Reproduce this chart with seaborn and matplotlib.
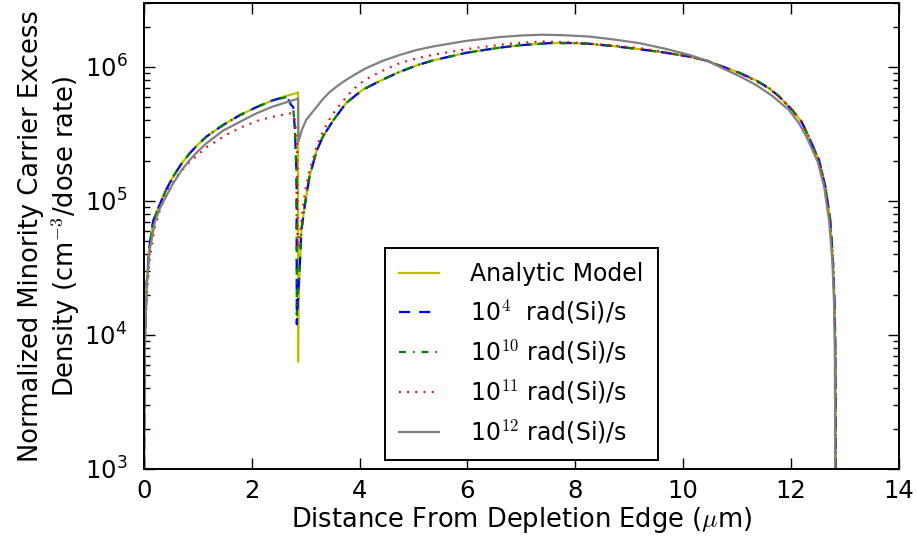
import numpy as np
import matplotlib
matplotlib.use("Agg")
import matplotlib.pyplot as plt
import seaborn as sns
from matplotlib.ticker import LogLocator, FixedLocator

# ---------------- data (y as log10 values) ----------------
analytic_x = [0.001, 0.003, 0.01, 0.02, 0.05, 0.1, 0.17, 0.3, 0.42, 0.54, 0.7, 0.85, 1.0, 1.16, 1.47,
              1.78, 2.09, 2.39, 2.65, 2.83, 2.858, 2.859, 2.865, 2.89, 2.92, 2.98, 3.07, 3.2, 3.32,
              3.51, 3.75, 4.06, 4.43, 4.74, 5.05, 5.36, 5.98, 6.59, 7.0, 7.52, 7.9, 8.26, 8.7, 9.19,
              9.65, 10.11, 10.45, 10.73, 11.05, 11.35, 11.6, 11.78, 12.02, 12.2, 12.33, 12.52, 12.64,
              12.73, 12.78, 12.81, 12.825, 12.83, 12.835]
analytic_log10 = [2.7, 3.2, 3.7, 4.0, 4.38, 4.65, 4.85, 4.98, 5.09, 5.18, 5.28, 5.356, 5.42, 5.48, 5.567,
                  5.64, 5.70, 5.75, 5.785, 5.804, 5.81, 3.80, 4.2, 4.51, 4.78, 4.957, 5.18, 5.37, 5.48,
                  5.60, 5.73, 5.83, 5.905, 5.962, 6.01, 6.048, 6.105, 6.143, 6.162, 6.177, 6.178, 6.172,
                  6.155, 6.132, 6.107, 6.077, 6.045, 6.002, 5.955, 5.90, 5.84, 5.78, 5.68, 5.59, 5.48,
                  5.306, 5.107, 4.858, 4.56, 4.26, 3.9, 3.5, 2.5]

d4_x = [0.001, 0.003, 0.01, 0.02, 0.05, 0.1, 0.17, 0.3, 0.42, 0.54, 0.7, 0.85, 1.0, 1.16, 1.47,
        1.78, 2.09, 2.39, 2.65, 2.73, 2.77, 2.80, 2.83, 2.835, 2.86, 2.89, 2.92, 2.98, 3.07, 3.2, 3.32,
        3.51, 3.75, 4.06, 4.43, 4.74, 5.05, 5.36, 5.98, 6.59, 7.0, 7.52, 7.9, 8.26, 8.7, 9.19,
        9.65, 10.11, 10.45, 10.73, 11.05, 11.35, 11.6, 11.78, 12.02, 12.2, 12.33, 12.52, 12.64,
        12.73, 12.78, 12.81, 12.825, 12.83, 12.835]
d4_log10 = [2.7, 3.2, 3.7, 4.0, 4.38, 4.65, 4.85, 4.98, 5.09, 5.18, 5.28, 5.356, 5.42, 5.48, 5.567,
            5.64, 5.70, 5.75, 5.78, 5.716, 5.70, 5.53, 5.2, 4.08, 4.3, 4.51, 4.78, 4.957, 5.18, 5.37, 5.48,
            5.60, 5.73, 5.83, 5.905, 5.962, 6.01, 6.048, 6.105, 6.143, 6.162, 6.177, 6.178, 6.172,
            6.155, 6.132, 6.107, 6.077, 6.045, 6.002, 5.955, 5.90, 5.84, 5.78, 5.68, 5.59, 5.48,
            5.306, 5.107, 4.858, 4.56, 4.26, 3.9, 3.5, 2.5]

d10_x = [0.001, 0.003, 0.01, 0.02, 0.05, 0.1, 0.17, 0.3, 0.42, 0.54, 0.7, 0.85, 1.0, 1.16, 1.47,
         1.78, 2.09, 2.39, 2.65, 2.73, 2.77, 2.80, 2.83, 2.835, 2.86, 2.89, 2.92, 2.98, 3.07, 3.2, 3.32,
         3.51, 3.75, 4.06, 4.43, 4.74, 5.05, 5.36, 5.98, 6.59, 7.0, 7.52, 7.9, 8.26, 8.7, 9.19,
         9.65, 10.11, 10.45, 10.73, 11.05, 11.35, 11.6, 11.78, 12.02, 12.2, 12.33, 12.52, 12.64,
         12.73, 12.78, 12.81, 12.825, 12.83, 12.835]
d10_log10 = [2.7, 3.2, 3.7, 4.0, 4.38, 4.65, 4.85, 4.98, 5.09, 5.18, 5.28, 5.356, 5.42, 5.48, 5.567,
             5.64, 5.70, 5.75, 5.775, 5.71, 5.69, 5.52, 5.2, 4.15, 4.32, 4.51, 4.78, 4.957, 5.18, 5.37, 5.48,
             5.60, 5.73, 5.83, 5.905, 5.962, 6.01, 6.048, 6.105, 6.143, 6.162, 6.177, 6.178, 6.172,
             6.155, 6.132, 6.107, 6.077, 6.045, 6.002, 5.955, 5.90, 5.84, 5.78, 5.68, 5.59, 5.48,
             5.306, 5.107, 4.858, 4.56, 4.26, 3.9, 3.5, 2.5]

d11_x = [0.001, 0.003, 0.01, 0.02, 0.05, 0.1, 0.2, 0.3, 0.42, 0.60, 0.82, 1.16, 1.56, 1.84, 2.15,
         2.46, 2.73, 2.80, 2.84, 2.85, 2.89, 2.92, 2.95, 3.0, 3.07, 3.2, 3.32, 3.47, 3.66, 3.81, 3.96,
         4.12, 4.43, 4.74, 5.05, 5.36, 5.98, 6.59, 7.0, 7.4, 7.95, 8.57, 9.19, 9.65, 10.11, 10.45,
         10.73, 11.05, 11.35, 11.6, 11.78, 12.02, 12.2, 12.33, 12.52, 12.64, 12.73, 12.78, 12.81,
         12.825, 12.83, 12.835]
d11_log10 = [2.6, 3.1, 3.6, 3.9, 4.28, 4.55, 4.8, 4.94, 5.057, 5.18, 5.28, 5.40, 5.50, 5.555, 5.604,
             5.634, 5.654, 5.6, 5.45, 4.65, 4.74, 4.84, 4.957, 5.095, 5.22, 5.405, 5.517, 5.63, 5.73, 5.80,
             5.86, 5.908, 5.972, 6.027, 6.062, 6.09, 6.132, 6.164, 6.180, 6.189, 6.182, 6.164, 6.14,
             6.11, 6.077, 6.042, 6.0, 5.952, 5.895, 5.835, 5.78, 5.68, 5.59, 5.48, 5.306, 5.107, 4.858,
             4.56, 4.26, 3.9, 3.5, 2.5]

d12_x = [0.001, 0.003, 0.01, 0.02, 0.05, 0.1, 0.2, 0.3, 0.42, 0.54, 0.7, 0.85, 1.0, 1.16, 1.47,
         1.78, 2.09, 2.39, 2.83, 2.86, 2.865, 2.93, 3.01, 3.1, 3.2, 3.32, 3.44, 3.58, 3.72, 3.9, 4.12,
         4.43, 4.74, 5.05, 5.36, 5.98, 6.59, 7.0, 7.4, 7.8, 8.26, 8.7, 9.19, 9.65, 10.11, 10.45, 10.73,
         11.05, 11.35, 11.65, 11.96, 12.15, 12.3, 12.5, 12.62, 12.71, 12.77, 12.80, 12.815, 12.82, 12.825]
d12_log10 = [2.7, 3.2, 3.7, 4.0, 4.36, 4.62, 4.84, 4.95, 5.04, 5.13, 5.23, 5.306, 5.37, 5.43, 5.525,
             5.59, 5.654, 5.704, 5.759, 5.765, 5.443, 5.53, 5.605, 5.65, 5.70, 5.76, 5.81, 5.855, 5.895,
             5.94, 5.99, 6.045, 6.088, 6.125, 6.152, 6.194, 6.222, 6.234, 6.24, 6.236, 6.226, 6.205,
             6.177, 6.137, 6.09, 6.045, 5.99, 5.93, 5.866, 5.785, 5.68, 5.58, 5.47, 5.29, 5.1, 4.85,
             4.55, 4.25, 3.9, 3.5, 2.5]

series_labels = ["Analytic Model", r"10$^{4}$  rad(Si)/s", r"10$^{10}$ rad(Si)/s",
                 r"10$^{11}$ rad(Si)/s", r"10$^{12}$ rad(Si)/s"]
x_ticks = [0, 2, 4, 6, 8, 10, 12, 14]

# ---------------- style ----------------
plt.rcParams.update({
    "font.family": ["DejaVu Sans"],
    "mathtext.fontset": "cm",
    "axes.linewidth": 1.4,
    "lines.scale_dashes": False,
    "lines.dashed_pattern": [8.0, 6.5],
    "lines.dashdot_pattern": [5.0, 5.0, 1.2, 5.0],
    "lines.dotted_pattern": [1.3, 4.6],
    "xtick.direction": "in",
    "ytick.direction": "in",
})

fig = plt.figure(figsize=(9.17, 5.38), dpi=100)
ax = fig.add_axes([0.157, 0.1283, 0.823, 0.8663])

styles = [("#bfbf00", "-"), ("#0000ff", "--"), ("#008000", "-."), ("#ff0000", ":"), ("#808080", "-")]
all_x = [analytic_x, d4_x, d10_x, d11_x, d12_x]
all_y = [analytic_log10, d4_log10, d10_log10, d11_log10, d12_log10]
for xs, ly, lab, (c, ls) in zip(all_x, all_y, series_labels, styles):
    sns.lineplot(x=np.array(xs), y=10.0 ** np.array(ly), ax=ax, color=c, linestyle=ls,
                 linewidth=1.6, sort=False, estimator=None, label=lab)

ax.set_yscale("log")
ax.set_xlim(0, 14)
ax.set_ylim(1e3, 3e6)
ax.xaxis.set_major_locator(FixedLocator(x_ticks))
ax.yaxis.set_major_locator(LogLocator(base=10))
ax.yaxis.set_minor_locator(LogLocator(base=10, subs=np.arange(2, 10)))
ax.tick_params(which="both", top=True, right=True, direction="in")
ax.tick_params(which="major", length=8, width=1.0, labelsize=17.5)
ax.tick_params(axis="y", which="major", pad=12)
ax.tick_params(axis="x", which="major", pad=7)
ax.tick_params(which="minor", length=4, width=1.0)
ax.tick_params(axis="x", which="minor", top=False, bottom=False)

ax.set_xlabel(r"Distance From Depletion Edge ($\mu$m)", fontsize=18.5, labelpad=2)
ax.set_ylabel("Normalized Minority Carrier Excess\n" + r"Density (cm$^{-3}$/dose rate)",
              fontsize=18.5, labelpad=2)

leg = ax.legend(loc="lower center", fontsize=17, fancybox=False, framealpha=1,
                edgecolor="black", handlelength=1.7, borderpad=0.6, labelspacing=0.5,
                handletextpad=1.3, borderaxespad=0, bbox_to_anchor=(0.5, 0.019))
leg.get_frame().set_linewidth(1.4)

fig.savefig("out.png", dpi=100)
